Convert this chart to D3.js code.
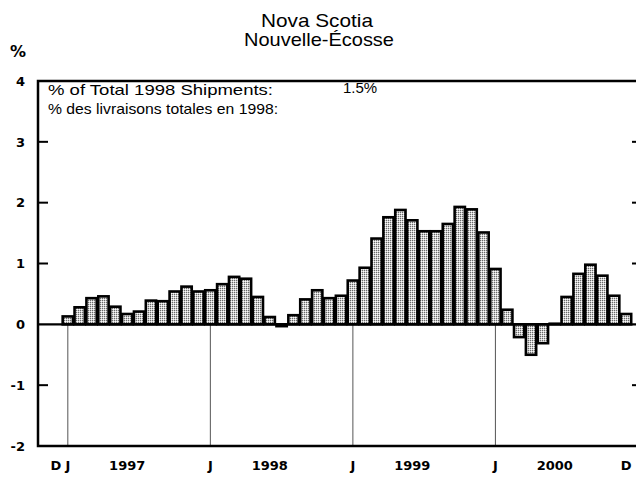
<!DOCTYPE html>
<meta charset="utf-8">
<style>
body { margin: 0; background: #fff; }
.tick-label { font-family: "DejaVu Sans", sans-serif; font-weight: bold; font-size: 13px; fill: #000; }
.txt { font-family: "Liberation Sans", Arial, sans-serif; fill: #000; }
</style>
<body>
<script src="https://d3js.org/d3.v7.min.js"></script>
<script>
// monthly categories, Dec 1996 .. Dec 2000
var months = ["Dec96",
  "Jan97","Feb97","Mar97","Apr97","May97","Jun97","Jul97","Aug97","Sep97","Oct97","Nov97","Dec97",
  "Jan98","Feb98","Mar98","Apr98","May98","Jun98","Jul98","Aug98","Sep98","Oct98","Nov98","Dec98",
  "Jan99","Feb99","Mar99","Apr99","May99","Jun99","Jul99","Aug99","Sep99","Oct99","Nov99","Dec99",
  "Jan00","Feb00","Mar00","Apr00","May00","Jun00","Jul00","Aug00","Sep00","Oct00","Nov00","Dec00"];

// % change
var values = [0.00,
  0.13, 0.28, 0.43, 0.46, 0.29, 0.17, 0.21, 0.39, 0.38, 0.54, 0.62, 0.54,
  0.56, 0.66, 0.78, 0.75, 0.45, 0.12, -0.03, 0.15, 0.41, 0.56, 0.43, 0.47,
  0.72, 0.93, 1.41, 1.76, 1.88, 1.71, 1.53, 1.53, 1.65, 1.93, 1.89, 1.51,
  0.91, 0.24, -0.21, -0.50, -0.31, 0.01, 0.45, 0.83, 0.98, 0.80, 0.47, 0.17];

var yTicks = [4, 3, 2, 1, 0, -1, -2];
var yMarks = [3, 2, 1, -1];
var xTickMonths = ["Dec96", "Jan97", "Jun97", "Jan98", "Jun98", "Jan99", "Jun99", "Jan00", "Jun00", "Dec00"];
var xTickLabels = ["D", "J", "1997", "J", "1998", "J", "1999", "J", "2000", "D"];
var janLines = ["Jan97", "Jan98", "Jan99", "Jan00"];

var titleLines = ["Nova Scotia", "Nouvelle-\u00c9cosse"];
var noteLines = ["% of Total 1998 Shipments:", "% des livraisons totales en 1998:"];
var shareText = "1.5%";

// layout
var W = 636, H = 480;
var pLeft = 38, pRight = 636, pTop = 81, pBottom = 446;

var svg = d3.select("body").append("svg")
    .attr("width", W)
    .attr("height", H);

var x = d3.scaleBand().domain(months).range([50, 632]).padding(0);
var y = d3.scaleLinear().domain([-2, 4]).range([pBottom, pTop]);

// stipple fill for the bars
var defs = svg.append("defs");
var pat = defs.append("pattern")
    .attr("id", "stip")
    .attr("width", 2).attr("height", 2)
    .attr("patternUnits", "userSpaceOnUse");
pat.append("rect").attr("width", 2).attr("height", 2).attr("fill", "#cfcfcf");
pat.append("rect").attr("width", 1).attr("height", 1).attr("fill", "#6a6a6a");
pat.append("rect").attr("x", 1).attr("y", 1).attr("width", 1).attr("height", 1).attr("fill", "#fafafa");

// title
svg.append("text").attr("class", "txt")
    .attr("x", 317).attr("y", 27)
    .attr("text-anchor", "middle")
    .style("font-size", "19px")
    .attr("textLength", 112)
    .attr("lengthAdjust", "spacingAndGlyphs")
    .text(titleLines[0]);
svg.append("text").attr("class", "txt")
    .attr("x", 319).attr("y", 46)
    .attr("text-anchor", "middle")
    .style("font-size", "19px")
    .attr("textLength", 150)
    .attr("lengthAdjust", "spacingAndGlyphs")
    .text(titleLines[1]);

// unit
svg.append("text").attr("class", "tick-label")
    .attr("x", 10).attr("y", 57)
    .style("font-size", "16px")
    .text("%");

// Jan separators below zero
svg.selectAll(".jan")
    .data(janLines)
    .enter().append("line")
    .attr("x1", function(d) { return x(d) + x.bandwidth() / 2; })
    .attr("x2", function(d) { return x(d) + x.bandwidth() / 2; })
    .attr("y1", y(0))
    .attr("y2", y(-2))
    .attr("stroke", "#555")
    .attr("stroke-width", 1);

// bars
svg.selectAll(".bar")
    .data(values)
    .enter().append("rect")
    .attr("class", "bar")
    .attr("x", function(d, i) { return x(months[i]) + 0.8; })
    .attr("width", x.bandwidth() - 1.6)
    .attr("y", function(d) { return y(Math.max(0, d)); })
    .attr("height", function(d) { return Math.abs(y(d) - y(0)); })
    .attr("fill", "url(#stip)")
    .attr("stroke", "#000")
    .attr("stroke-width", 2.6);

// zero line
svg.append("line")
    .attr("x1", pLeft).attr("x2", pRight)
    .attr("y1", y(0)).attr("y2", y(0))
    .attr("stroke", "#000").attr("stroke-width", 2.2);

// frame: top, bottom, left
svg.append("path")
    .attr("d", "M" + pRight + "," + pTop + "H" + pLeft + "V" + pBottom + "H" + pRight)
    .attr("fill", "none")
    .attr("stroke", "#000")
    .attr("stroke-width", 2.5);

// inward ticks on the left, small marks on the right
svg.selectAll(".ltick")
    .data(yMarks)
    .enter().append("line")
    .attr("x1", pLeft).attr("x2", pLeft + 10)
    .attr("y1", function(d) { return y(d); })
    .attr("y2", function(d) { return y(d); })
    .attr("stroke", "#000").attr("stroke-width", 2);
svg.selectAll(".rtick")
    .data(yMarks)
    .enter().append("line")
    .attr("x1", 632).attr("x2", 636)
    .attr("y1", function(d) { return y(d); })
    .attr("y2", function(d) { return y(d); })
    .attr("stroke", "#000").attr("stroke-width", 2);

// y labels
var yAxis = svg.append("g")
    .attr("transform", "translate(" + pLeft + ",0)")
    .call(d3.axisLeft(y).tickValues(yTicks).tickSize(0).tickPadding(13).tickFormat(String));
yAxis.select(".domain").remove();
yAxis.selectAll("text").attr("class", "tick-label").attr("font-family", null).attr("font-size", null);

// x labels
var xAxis = svg.append("g")
    .attr("transform", "translate(0," + pBottom + ")")
    .call(d3.axisBottom(x).tickValues(xTickMonths).tickSize(0).tickPadding(15)
        .tickFormat(function(d) { return xTickLabels[xTickMonths.indexOf(d)]; }));
xAxis.select(".domain").remove();
xAxis.selectAll("text").attr("class", "tick-label").attr("font-family", null).attr("font-size", null);

// note inside the frame
svg.append("text").attr("class", "txt")
    .attr("x", 48).attr("y", 95)
    .style("font-size", "15px")
    .attr("textLength", 225)
    .attr("lengthAdjust", "spacingAndGlyphs")
    .text(noteLines[0]);
svg.append("text").attr("class", "txt")
    .attr("x", 48).attr("y", 114)
    .style("font-size", "15px")
    .attr("textLength", 230)
    .attr("lengthAdjust", "spacingAndGlyphs")
    .text(noteLines[1]);
svg.append("text").attr("class", "txt")
    .attr("x", 343).attr("y", 93)
    .style("font-size", "15px")
    .text(shareText);
</script>
</body>
